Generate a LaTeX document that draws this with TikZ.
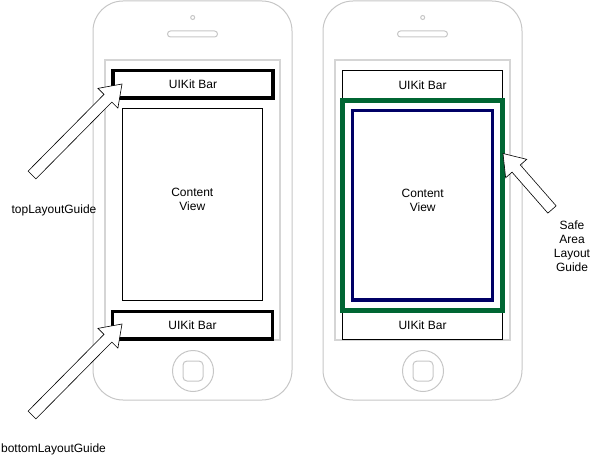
\documentclass[tikz,border=0pt]{standalone}
\usepackage{fontspec}
\setmainfont{Liberation Sans}
\usetikzlibrary{positioning,calc}

\definecolor{safegreen}{RGB}{0,102,51}
\definecolor{viewnavy}{RGB}{0,0,102}

\tikzset{
  phone/.style={draw=gray!45, line width=1pt, rounded corners=30pt},
  screen/.style={draw=gray!33, line width=1.2pt},
  bar/.style={draw, line width=3.5pt, inner sep=0pt, minimum width=160pt, minimum height=27.5pt},
  thinbar/.style={draw, line width=1pt, inner sep=0pt, minimum width=160.5pt, minimum height=29.5pt},
  view/.style={draw, line width=1pt, inner sep=0pt},
  hollow/.style={draw, line width=0.6pt, fill=white, line join=miter},
  lbl/.style={font=\fontsize{12}{14}\selectfont, align=center, inner sep=0pt},
}

% hollow block arrow from tail #1 to tip #2
\newcommand{\guidearrow}[2]{%
  \coordinate (#1-base) at ($(#2)!20pt!(#1)$);
  \draw[hollow] ($(#1)!5.5pt!90:(#2)$) -- ($(#1-base)!5.5pt!90:(#2)$)
    -- ($(#1-base)!14pt!90:(#2)$) -- (#2) -- ($(#1-base)!14pt!-90:(#2)$)
    -- ($(#1-base)!5.5pt!-90:(#2)$) -- ($(#1)!5.5pt!-90:(#2)$) -- cycle;
}

\begin{document}
\begin{tikzpicture}[x=1pt, y=-1pt, lbl]
\useasboundingbox (0,0) rectangle (593,462);

% the two phones
\foreach \dx in {0,230}{
  \begin{scope}[xshift=\dx]
    \draw[phone] (93,1) rectangle (292,400);
    \draw[phone, rounded corners=3pt] (167.5,31) rectangle (217.5,37);
    \draw[phone] (192.7,17.5) circle (2);
    \draw[phone] (193,371) circle (20.5);
    \draw[phone, rounded corners=4pt] (183,361) rectangle (203,381);
    \draw[screen] (105,60) rectangle (280,340);
  \end{scope}
}

% left phone: layout guides
\node[bar] (topbarL) at (193,84.5) {UIKit Bar};
\node[bar] (botbarL) at (192.5,325) {UIKit Bar};
\node[view, minimum width=140.5pt, minimum height=191.5pt] (viewL) at (192.3,204.3) {};
\node (textL) at ([yshift=4.5pt]viewL.center) {Content\\View};

% right phone: safe area
\node[thinbar] (topbarR) at (422.5,85.2) {UIKit Bar};
\node[thinbar] (botbarR) at (422.5,325.2) {UIKit Bar};
\node[draw=safegreen, line width=5pt, inner sep=0pt, minimum width=160pt, minimum height=209.4pt] (safeR) at (422.5,205.5) {};
\node[draw=viewnavy, line width=3.3pt, inner sep=0pt, minimum width=140pt, minimum height=189.7pt] (viewR) at (422.7,205.2) {};
\node (textR) at ([yshift=4.5pt]viewR.center) {Content\\View};

% labels
\node (topGuide) at (54,210) {topLayoutGuide};
\node (botGuide) at (53.5,449) {bottomLayoutGuide};
\node (safeGuide) at (572,246) {Safe\\Area\\Layout\\Guide};

% arrows
\coordinate (topTail) at (32,175);
\coordinate (topTip) at (122,84);
\coordinate (botTail) at (32,415);
\coordinate (botTip) at (122,324);
\coordinate (safeTail) at (552,209.5);
\coordinate (safeTip) at (503,153.5);
\guidearrow{topTail}{topTip}
\guidearrow{botTail}{botTip}
\guidearrow{safeTail}{safeTip}
\end{tikzpicture}
\end{document}
